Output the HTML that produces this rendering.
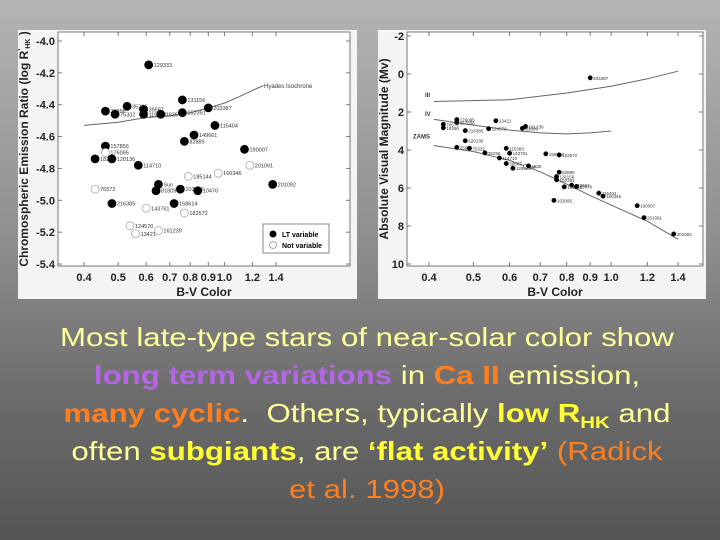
<!DOCTYPE html>
<html><head><meta charset="utf-8"><style>
body{margin:0;width:720px;height:540px;overflow:hidden;background:linear-gradient(180deg,#b4b4b4 0%,#8e8e8e 45%,#6a6a6a 75%,#555 100%);font-family:"Liberation Sans",sans-serif;position:relative}
svg{position:absolute;left:0;top:0}
#txt{position:absolute;left:7px;top:318px;width:720px;text-align:center;font-size:26px;line-height:38px;color:#ffff99;white-space:nowrap;transform:scaleX(1.2);transform-origin:360px 0}
sub{font-size:17px;line-height:0;vertical-align:-6px}
.p{color:#b565e6;font-weight:bold}.o{color:#ff7f1f}.ob{color:#ff7f1f;font-weight:bold}.y{color:#ffff33;font-weight:bold}
</style></head><body>
<svg width="720" height="540">
<rect x="18" y="30" width="339" height="269" fill="#f4f4f4"/>
<rect x="378" y="30" width="328" height="269" fill="#f4f4f4"/>
<g id="L"></g><g id="R"></g>
</svg>
<div id="txt">Most late-type stars of near-solar color show<br><span class="p">long term variations</span> in <span class="ob">Ca II</span> emission,<br><span class="ob">many cyclic</span>.&nbsp; Others, typically <span class="y">low R<sub>HK</sub></span> and<br>often <span class="y">subgiants</span>, are <span class="y">‘flat activity’</span> <span class="o">(Radick</span><br><span class="o">et al. 1998)</span></div>
<script>
const leftNames=["129333","35296","39587","115383","25998","75332","1835","131156","152391","203387","115404","149661","82885","157856","18256","120136","114710","190007","Sun","81809","103095","10476","201092","216385","158614","176095","76572","185144","160346","201091","143761","182572","124570","13421","161239"];
const leftBV=[0.61,0.53,0.59,0.59,0.46,0.49,0.66,0.76,0.76,0.90,0.94,0.82,0.77,0.46,0.43,0.48,0.57,1.14,0.65,0.64,0.75,0.84,1.37,0.48,0.72,0.46,0.43,0.79,0.96,1.18,0.60,0.77,0.54,0.56,0.65];
const leftR=[-4.15,-4.41,-4.43,-4.46,-4.44,-4.46,-4.46,-4.37,-4.45,-4.42,-4.53,-4.59,-4.63,-4.66,-4.74,-4.74,-4.78,-4.68,-4.90,-4.94,-4.93,-4.94,-4.90,-5.02,-5.02,-4.70,-4.93,-4.85,-4.83,-4.78,-5.05,-5.08,-5.16,-5.21,-5.19];
const leftVar=[1,1,1,1,1,1,1,1,1,1,1,1,1,1,1,1,1,1,1,1,1,1,1,1,1,0,0,0,0,0,0,0,0,0,0];
const hyadesBV=[0.40,0.5,0.6,0.7,0.8,0.9,1.0,1.1,1.2,1.29];
const hyadesR=[-4.53,-4.51,-4.48,-4.47,-4.45,-4.42,-4.39,-4.35,-4.31,-4.28];
const rightNames=["203387","176095","157856","76572","18256","13421","124570","216385","161239","81809","120136","25998","75332","115383","35296","143761","158614","182572","114710","39587","Sun","1835","129333","82885","131156","152391","149661","185144","10476","115404","160346","103095","190007","201091","201092"];
const rightBV=[0.90,0.46,0.46,0.43,0.43,0.56,0.54,0.48,0.65,0.64,0.48,0.46,0.49,0.59,0.53,0.60,0.72,0.77,0.57,0.59,0.65,0.66,0.61,0.77,0.76,0.76,0.82,0.79,0.84,0.94,0.96,0.75,1.14,1.18,1.37];
const rightMv=[0.2,2.4,2.55,2.65,2.83,2.46,2.88,2.98,2.76,2.86,3.51,3.86,3.91,3.91,4.15,4.17,4.2,4.26,4.42,4.71,4.87,4.84,4.96,5.17,5.4,5.57,5.85,5.94,5.92,6.27,6.43,6.65,6.93,7.56,8.42];
const giantBV=[0.41,0.6,0.8,1.0,1.2,1.4];const giantMv=[1.45,1.35,1.0,0.65,0.25,-0.15];
const subBV=[0.41,0.5,0.6,0.7,0.8,0.9,1.0];const subMv=[2.39,2.69,2.95,3.1,3.15,3.1,3.0];
const zamsBV=[0.41,0.5,0.6,0.7,0.8,0.9,1.0,1.2,1.4];const zamsMv=[3.77,4.08,4.55,5.15,5.8,6.4,6.9,7.75,8.7];
const xTicks=[0.4,0.5,0.6,0.7,0.8,0.9,1.0,1.2,1.4];
const xTickLabels=["0.4","0.5","0.6","0.7","0.8","0.9","1.0","1.2","1.4"];
const lyTicks=[-4.0,-4.2,-4.4,-4.6,-4.8,-5.0,-5.2,-5.4];
const ryTicks=[-2,0,2,4,6,8,10];
const NS="http://www.w3.org/2000/svg";
function mk(p,t,a){const e=document.createElementNS(NS,t);for(const k in a)e.setAttribute(k,a[k]);p.appendChild(e);return e;}
const LR=Math.log(3.5);
const lx=b=>84+Math.log(b/0.4)/LR*192, ly=v=>41+(-4.0-v)*159.3;
const rx=b=>429+Math.log(b/0.4)/LR*249, ry=m=>36+(m+2)*19;
function axes(g,x0,y0,x1,y1,xs,ys,yt,yfmt,xlab,ylab,ylx){
 const f=mk(g,'rect',{x:x0,y:y0,width:x1-x0,height:y1-y0,fill:'#fff',stroke:'#777','stroke-width':1});
 
 xTicks.forEach((t,i)=>{const X=xs(t);mk(g,'line',{x1:X,y1:y1,x2:X,y2:y1-4,stroke:'#777'});mk(g,'line',{x1:X,y1:y0,x2:X,y2:y0+4,stroke:'#777'});
  const tx=mk(g,'text',{x:X,y:y1+15,'text-anchor':'middle','font-size':11,'font-weight':'bold',fill:'#222'});tx.textContent=xTickLabels[i];
  });
 yt.forEach(t=>{const Y=ys(t);mk(g,'line',{x1:x0,y1:Y,x2:x0+4,y2:Y,stroke:'#777'});mk(g,'line',{x1:x1,y1:Y,x2:x1-4,y2:Y,stroke:'#777'});
  const tx=mk(g,'text',{x:x0-3,y:Y+4,'text-anchor':'end','font-size':11,'font-weight':'bold',fill:'#222'});tx.textContent=yfmt(t);
  });
 const xl=mk(g,'text',{x:(x0+x1)/2,y:y1+30,'text-anchor':'middle','font-size':12,'font-weight':'bold',fill:'#222'});xl.textContent=xlab;
 
 const yl=mk(g,'text',{x:0,y:0,transform:`translate(${ylx},${(y0+y1)/2}) rotate(-90)`,'text-anchor':'middle','font-size':12,'font-weight':'bold',fill:'#222'});yl.innerHTML=ylab;
 
}
function line(g,xs,ys,bx,by,name){const d=bx.map((b,i)=>(i?'L':'M')+xs(b).toFixed(1)+','+ys(by[i]).toFixed(1)).join('');
 const p=mk(g,'path',{d:d,fill:'none',stroke:'#666','stroke-width':1});}
const L=document.getElementById('L');
axes(L,58,32,350,266,lx,ly,lyTicks,t=>t.toFixed(1),'B-V Color','Chromospheric Emission Ratio (log R<tspan font-size="8" dy="-4">\'</tspan><tspan font-size="7" dy="6">HK</tspan><tspan dy="-2"> )</tspan>',28);
line(L,lx,ly,hyadesBV,hyadesR,'hyades-isochrone');
{const t=mk(L,'text',{x:264,y:88,'font-size':6,fill:'#333'});t.textContent='Hyades Isochrone';}
leftBV.forEach((b,i)=>{const X=lx(b),Y=ly(leftR[i]);
 const c=mk(L,'circle',{cx:X,cy:Y,r:4,fill:leftVar[i]?'#000':'#fff',stroke:leftVar[i]?'#000':'#aaa','stroke-width':0.8});
 
 const t=mk(L,'text',{x:X+5,y:Y+2,'font-size':5.5,fill:'#333'});t.textContent=leftNames[i];});
{const lg=mk(L,'g',{});
 mk(lg,'rect',{x:263,y:224,width:66,height:29,fill:'#fff',stroke:'#888'});
 mk(lg,'circle',{cx:273,cy:234,r:3.5,fill:'#000'});mk(lg,'circle',{cx:273,cy:245,r:3.5,fill:'#fff',stroke:'#aaa'});
 const a=mk(lg,'text',{x:282,y:237,'font-size':7,'font-weight':'bold'});a.textContent='LT variable';
 const b=mk(lg,'text',{x:282,y:248,'font-size':7,'font-weight':'bold'});b.textContent='Not variable';}
const R=document.getElementById('R');
axes(R,407,32,703,266,rx,ry,ryTicks,t=>String(t),'B-V Color','Absolute Visual Magnitude (Mv)',388);
line(R,rx,ry,giantBV,giantMv,'giant-branch');line(R,rx,ry,subBV,subMv,'subgiant-branch');line(R,rx,ry,zamsBV,zamsMv,'zams-line');
[['III',1.2],['IV',2.2],['ZAMS',3.4]].forEach(([s,m],i)=>{const t=mk(R,'text',{x:[425,425,413][i],y:ry(m),'font-size':6,'font-weight':'bold',fill:'#333'});t.textContent=s;});
rightBV.forEach((b,i)=>{const X=rx(b),Y=ry(rightMv[i]);
 const c=mk(R,'circle',{cx:X,cy:Y,r:2.2,fill:rightNames[i]=='Sun'?'#fff':'#000',stroke:'#000','stroke-width':0.5});
 
 const t=mk(R,'text',{x:X+3,y:Y+2,'font-size':4.5,fill:'#333'});t.textContent=rightNames[i];});
</script>
</body></html>
